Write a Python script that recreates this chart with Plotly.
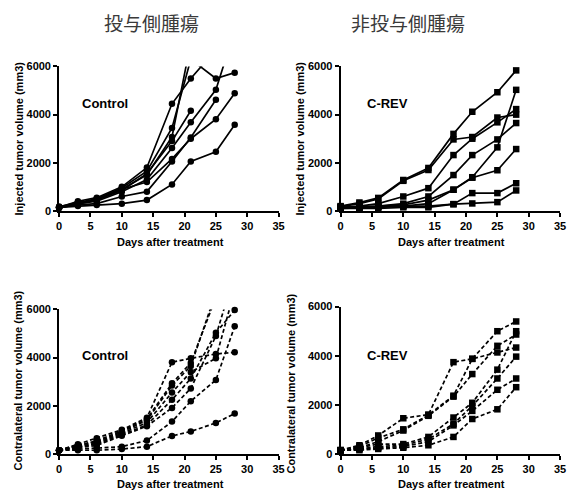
import plotly.graph_objects as go

# ---------------- data ----------------
days = [0, 3, 6, 10, 14, 18, 21, 25, 28]

x_ticks = [0, 5, 10, 15, 20, 25, 30, 35]
y_ticks = [0, 2000, 4000, 6000]

header_left = "投与側腫瘍"
header_right = "非投与側腫瘍"
group_control = "Control"
group_crev = "C-REV"
x_label = "Days after treatment"
y_label_inj = "Injected tumor volume (mm3)"
y_label_con = "Contralateral tumor volume (mm3)"

# Injected tumour, Control (one list per mouse; None = not measured)
inj_control = [
    [150, 400, 550, 1000, 1800, 4450, 5500, 6700, None],
    [140, 350, 500, 950, 1650, 3450, 6300, 5500, 5745],
    [120, 300, 450, 900, 1500, 3070, 7000, None, None],
    [150, 320, 480, 850, 1550, 2900, 4160, None, None],
    [130, 300, 400, 800, 1300, 2610, 3680, 5030, 7500],
    [150, 250, 300, 600, 800, 2050, 3050, 4620, None],
    [180, 350, 450, 900, 1200, 2160, 3000, 3810, 4890],
    [150, 200, 250, 300, 450, 1100, 2050, 2460, 3580],
]

# Injected tumour, C-REV
inj_crev = [
    [200, 350, 540, 1285, 1784, 3200, 4120, 4930, 5838],
    [180, 300, 500, 1250, 1700, 2970, 3070, 3880, 4000],
    [150, 200, 300, 600, 945, 2320, 3000, 3680, 4230],
    [150, 180, 200, 300, 600, 1490, 2320, 2970, 3650],
    [120, 150, 200, 250, 450, 880, 1400, 2640, 5030],
    [120, 150, 180, 200, 300, 880, 1380, 1690, 2570],
    [100, 120, 150, 200, 200, 280, 740, 740, 1150],
    [100, 100, 100, 150, 150, 280, 310, 365, 850],
]

# Contralateral tumour, Control
con_control = [
    [150, 400, 650, 1000, 1500, 3810, 3970, 4150, 4220],
    [150, 350, 550, 950, 1450, 2930, 3780, 6500, None],
    [150, 350, 500, 900, 1400, 2840, 3650, 6700, None],
    [150, 300, 450, 850, 1300, 2550, 3400, 3970, 6800],
    [150, 300, 400, 800, 1200, 2250, 3130, 5030, 5973],
    [150, 250, 350, 750, 1150, 1910, 2720, 4900, 7500],
    [150, 200, 250, 300, 555, 1340, 2190, 3070, 5300],
    [150, 150, 150, 200, 300, 745, 930, 1285, 1675],
]

# Contralateral tumour, C-REV
con_crev = [
    [150, 350, 750, 1450, 1600, 3735, 3870, 4130, 4330],
    [150, 300, 650, 1000, 1580, 2370, 3870, 4995, 5392],
    [150, 250, 500, 950, 1550, 2330, 3250, 4400, 4860],
    [150, 250, 400, 400, 690, 1480, 2080, 3430, 4995],
    [150, 200, 300, 350, 600, 1220, 1950, 3070, 3960],
    [150, 200, 250, 300, 500, 1160, 1750, 2610, 3070],
    [150, 150, 200, 250, 350, 690, 1420, 1815, 2715],
]

# ---------------- figure ----------------
W, H = 571, 495
FONT = "Liberation Sans, Arial, sans-serif"
YMAX = 6000

fig = go.Figure()

panels = [
    # data, axis suffix, marker, dash, x-domain(px), y-domain(px top,bottom)
    (inj_control, "", "circle", "solid", (57, 280), (62, 210)),
    (inj_crev, "2", "square", "solid", (343, 566), (62, 210)),
    (con_control, "3", "circle", "4px,2.5px", (57, 280), (311, 459)),
    (con_crev, "4", "square", "4px,2.5px", (343, 566), (308, 459)),
]

for data, sfx, sym, dash, (x0, x1), (ytop, ybot) in panels:
    for mouse in data:
        sizes = [0 if (v is None or v > YMAX) else 6.5 for v in mouse]
        fig.add_trace(go.Scatter(
            x=days, y=mouse, mode="lines+markers",
            xaxis="x" + sfx, yaxis="y" + sfx,
            line=dict(color="black", width=1.7, dash=dash),
            marker=dict(symbol=sym, size=sizes, color="black", opacity=1,
                        line=dict(width=0)),
            cliponaxis=False, showlegend=False, hoverinfo="x+y",
        ))
    axis_common = dict(
        showgrid=False, zeroline=False, showline=True, linecolor="black",
        linewidth=1.8, ticks="outside", ticklen=4, tickwidth=1.5,
        tickcolor="black",
        tickfont=dict(family=FONT, size=11, color="black", weight="bold"),
    )
    fig.update_layout(**{
        "xaxis" + sfx: dict(domain=[x0 / W, x1 / W], range=[0, 35],
                            tickvals=x_ticks, anchor="y" + sfx,
                            **axis_common),
        "yaxis" + sfx: dict(domain=[1 - ybot / H, 1 - ytop / H],
                            range=[0, YMAX], tickvals=y_ticks,
                            anchor="x" + sfx, **axis_common),
    })

ann = []
hdr_font = dict(family="Noto Sans CJK JP", size=19, color="#3a3a3a")
for txt, px in [(header_left, 151), (header_right, 411)]:
    ann.append(dict(text=txt, x=px / W, y=1 - 17 / H, xref="paper",
                    yref="paper", showarrow=False, xanchor="center",
                    yanchor="middle", font=hdr_font))

lab_font = dict(family=FONT, size=11, color="black", weight="bold")
# y-axis titles
for txt, px, py in [(y_label_inj, 16, 136), (y_label_inj, 301.5, 136),
                    (y_label_con, 15, 384), (y_label_con, 292.5, 387)]:
    ann.append(dict(text=txt, x=px / W, y=1 - py / H, xref="paper",
                    yref="paper", showarrow=False, textangle=-90,
                    xanchor="center", yanchor="middle", font=lab_font))
# x-axis titles
for px, py in [(170.5, 242), (455.5, 242), (170.5, 490), (455.5, 490)]:
    ann.append(dict(text=x_label, x=px / W, y=1 - py / H, xref="paper",
                    yref="paper", showarrow=False, xanchor="center",
                    yanchor="middle", font=lab_font))
# group labels inside plots
grp_font = dict(family=FONT, size=13, color="black", weight="bold")
for txt, sfx, xv, yv in [(group_control, "", 3.3, 4460),
                         (group_crev, "2", 3.9, 4460),
                         (group_control, "3", 3.3, 4095),
                         (group_crev, "4", 3.9, 4000)]:
    ann.append(dict(text=txt, x=xv, y=yv, xref="x" + sfx, yref="y" + sfx,
                    showarrow=False, xanchor="left", yanchor="middle",
                    font=grp_font))

fig.update_layout(
    width=W, height=H, margin=dict(l=0, r=0, t=0, b=0),
    paper_bgcolor="white", plot_bgcolor="white", annotations=ann,
)

fig.write_html("out.html", config={"displayModeBar": False},
               post_script="document.body.style.margin='0';"
                           "document.body.style.overflow='hidden';")
